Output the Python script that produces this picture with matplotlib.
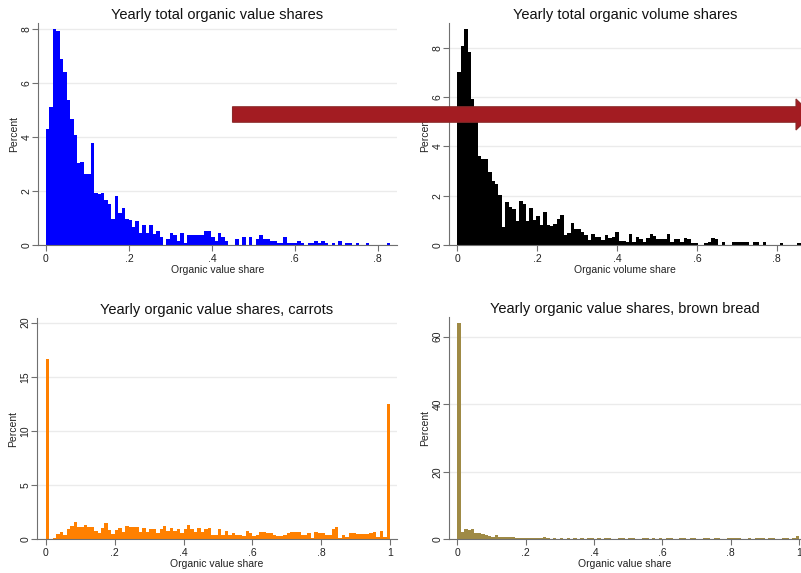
import numpy as np
import matplotlib
matplotlib.use('Agg')
import matplotlib.pyplot as plt
from matplotlib.patches import FancyArrow

plt.rcParams['font.family'] = ['Liberation Sans', 'DejaVu Sans']

# percent per bin, 100 equal bins from 0 to the maximum share
value_share_pct = [
    4.30, 5.12, 8.00, 7.93, 6.87, 6.41, 5.37, 4.68, 4.07, 3.03,
    3.09, 2.65, 2.65, 3.77, 1.94, 1.89, 1.94, 1.67, 1.52, 0.97,
    1.82, 1.21, 1.36, 0.97, 0.95, 0.68, 0.90, 0.45, 0.74, 0.45,
    0.74, 0.40, 0.54, 0.30, 0.00, 0.25, 0.45, 0.38, 0.15, 0.45,
    0.08, 0.38, 0.38, 0.38, 0.38, 0.37, 0.52, 0.52, 0.30, 0.15,
    0.46, 0.30, 0.15, 0.00, 0.00, 0.22, 0.00, 0.30, 0.00, 0.30,
    0.00, 0.22, 0.37, 0.22, 0.22, 0.15, 0.15, 0.07, 0.07, 0.30,
    0.07, 0.07, 0.07, 0.15, 0.07, 0.00, 0.07, 0.07, 0.15, 0.07,
    0.15, 0.07, 0.00, 0.07, 0.00, 0.15, 0.00, 0.07, 0.07, 0.00,
    0.07, 0.00, 0.00, 0.07, 0.00, 0.00, 0.00, 0.00, 0.00, 0.07]
value_share_max = 0.83

volume_share_pct = [
    7.03, 8.08, 8.76, 7.84, 5.91, 5.30, 3.62, 3.48, 3.48, 2.96,
    2.62, 2.48, 2.04, 0.76, 1.75, 1.54, 1.46, 0.98, 1.81, 1.67,
    0.98, 1.51, 1.04, 1.18, 0.84, 1.35, 0.81, 0.78, 0.86, 1.06,
    1.22, 0.40, 0.49, 0.92, 0.68, 0.65, 0.54, 0.41, 0.22, 0.45,
    0.35, 0.35, 0.22, 0.43, 0.30, 0.35, 0.54, 0.16, 0.16, 0.15,
    0.45, 0.15, 0.35, 0.24, 0.15, 0.31, 0.45, 0.38, 0.24, 0.24,
    0.24, 0.45, 0.12, 0.24, 0.24, 0.15, 0.31, 0.24, 0.08, 0.08,
    0.00, 0.00, 0.08, 0.15, 0.31, 0.24, 0.00, 0.15, 0.00, 0.00,
    0.15, 0.15, 0.15, 0.15, 0.15, 0.00, 0.15, 0.15, 0.00, 0.15,
    0.00, 0.00, 0.00, 0.00, 0.08, 0.00, 0.00, 0.00, 0.00, 0.08]
volume_share_max = 0.86

carrots_pct = [
    16.66, 0.00, 0.15, 0.46, 0.64, 0.40, 0.95, 1.26, 1.63, 1.10,
    1.16, 1.32, 1.16, 1.13, 0.80, 0.55, 1.04, 1.47, 0.86, 0.46,
    0.86, 1.04, 0.67, 1.23, 1.16, 1.10, 1.10, 0.67, 1.04, 0.67,
    0.98, 0.98, 0.55, 0.98, 1.23, 0.74, 1.04, 0.80, 0.92, 0.55,
    0.98, 1.32, 0.92, 0.67, 1.04, 0.67, 0.98, 1.04, 0.43, 0.43,
    0.92, 0.43, 0.74, 0.37, 0.61, 0.37, 0.43, 0.31, 0.80, 0.55,
    0.31, 0.43, 0.67, 0.67, 0.55, 0.55, 0.37, 0.31, 0.31, 0.37,
    0.55, 0.67, 0.67, 0.67, 0.37, 0.37, 0.55, 0.12, 0.67, 0.55,
    0.61, 0.37, 0.37, 0.92, 1.17, 0.12, 0.43, 0.25, 0.61, 0.55,
    0.46, 0.46, 0.46, 0.46, 0.61, 0.67, 0.25, 0.74, 0.25, 12.50]

bread_pct = [
    63.90, 2.07, 2.96, 2.67, 2.96, 1.78, 1.97, 1.68, 1.38, 1.09,
    0.60, 1.18, 0.80, 0.70, 0.70, 0.60, 0.70, 0.50, 0.50, 0.40,
    0.40, 0.30, 0.40, 0.50, 0.30, 0.60, 0.30, 0.20, 0.30, 0.20,
    0.30, 0.20, 0.25, 0.00, 0.25, 0.20, 0.25, 0.00, 0.25, 0.25,
    0.20, 0.25, 0.00, 0.25, 0.25, 0.20, 0.00, 0.25, 0.25, 0.00,
    0.25, 0.25, 0.20, 0.00, 0.25, 0.25, 0.00, 0.25, 0.20, 0.25,
    0.00, 0.25, 0.25, 0.00, 0.20, 0.25, 0.25, 0.00, 0.25, 0.25,
    0.00, 0.20, 0.25, 0.25, 0.00, 0.25, 0.25, 0.00, 0.00, 0.25,
    0.25, 0.25, 0.25, 0.00, 0.20, 0.25, 0.00, 0.25, 0.25, 0.25,
    0.00, 0.25, 0.25, 0.20, 0.00, 0.25, 0.25, 0.00, 0.25, 0.90]

xticks_08 = [0, 0.2, 0.4, 0.6, 0.8]
xlabels_08 = ['0', '.2', '.4', '.6', '.8']
xticks_1 = [0, 0.2, 0.4, 0.6, 0.8, 1.0]
xlabels_1 = ['0', '.2', '.4', '.6', '.8', '1']

W, H = 801, 573
fig = plt.figure(figsize=(W / 100, H / 100), dpi=100)
fig.patch.set_facecolor('white')

# (left, right, top, bottom) in pixels
panels = [
    dict(box=(37.7, 397, 22.7, 245.3), vals=value_share_pct, vmax=value_share_max,
         color='#0000ff', xlim=(-0.02, 0.8466), ylim=(0, 8.22),
         yticks=[0, 2, 4, 6, 8], xticks=xticks_08, xlabels=xlabels_08,
         title='Yearly total organic value shares', xlabel='Organic value share'),
    dict(box=(449, 801, 22.7, 245.3), vals=volume_share_pct, vmax=volume_share_max,
         color='#000000', xlim=(-0.0208, 0.861), ylim=(0, 9.01),
         yticks=[0, 2, 4, 6, 8], xticks=xticks_08, xlabels=xlabels_08,
         title='Yearly total organic volume shares', xlabel='Organic volume share'),
    dict(box=(36.7, 396.7, 318, 539.3), vals=carrots_pct, vmax=1.0,
         color='#ff8000', xlim=(-0.027, 1.0195), ylim=(0, 20.43),
         yticks=[0, 5, 10, 15, 20], xticks=xticks_1, xlabels=xlabels_1,
         title='Yearly organic value shares, carrots', xlabel='Organic value share'),
    dict(box=(449, 801, 317.3, 539.3), vals=bread_pct, vmax=1.0,
         color='#9f8a45', xlim=(-0.0243, 1.006), ylim=(0, 65.7),
         yticks=[0, 20, 40, 60], xticks=xticks_1, xlabels=xlabels_1,
         title='Yearly organic value shares, brown bread', xlabel='Organic value share'),
]

axis_col = '#707070'
for p in panels:
    l, r, t, b = p['box']
    ax = fig.add_axes([l / W, 1 - b / H, (r - l) / W, (b - t) / H])
    edges = np.linspace(0, p['vmax'], len(p['vals']) + 1)
    ax.bar(edges[:-1], p['vals'], width=np.diff(edges), align='edge',
           color=p['color'], linewidth=0, zorder=2)
    ax.set_xlim(*p['xlim'])
    ax.set_ylim(*p['ylim'])
    ax.set_xticks(p['xticks'])
    ax.set_xticklabels(p['xlabels'])
    ax.set_yticks(p['yticks'])
    ax.set_yticklabels([str(v) for v in p['yticks']], rotation=90, va='center')
    for s in ['top', 'right']:
        ax.spines[s].set_visible(False)
    for s in ['left', 'bottom']:
        ax.spines[s].set_color(axis_col)
        ax.spines[s].set_linewidth(0.8)
    ax.tick_params(direction='out', length=4, width=0.8, color=axis_col,
                   labelsize=7.5, labelcolor='#222222')
    ax.tick_params(axis='x', pad=2)
    ax.tick_params(axis='y', pad=0.5)
    ax.yaxis.grid(True, color='#ebebeb', linewidth=1.0, zorder=0)
    ax.set_axisbelow(True)
    ax.set_title(p['title'], fontsize=10.5, color='#111111', pad=3)
    ax.set_xlabel(p['xlabel'], fontsize=7.5, color='#222222', labelpad=1)
    ax.set_ylabel('Percent', fontsize=7.5, color='#222222')
    # place the label about 19 px left of the axis line
    ax.yaxis.set_label_coords(-19 / (r - l), 0.5)

# red arrow laid over the top row
x0, x_tip, yc = 232.5, 812, 114.5
arrow = FancyArrow(x0 / W, 1 - yc / H, (x_tip - x0) / W, 0,
                   width=15.5 / H, head_width=31 / H, head_length=16 / W,
                   length_includes_head=True, transform=fig.transFigure,
                   facecolor='#a31c22', edgecolor='#8a2a2a', linewidth=0.8, zorder=10)
fig.add_artist(arrow)

fig.savefig('out.png', dpi=100)
